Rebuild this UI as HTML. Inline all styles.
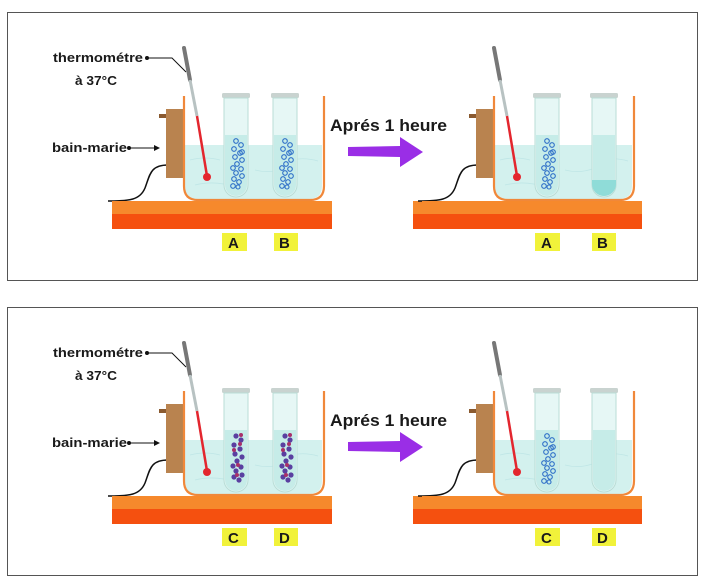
<!DOCTYPE html>
<html><head><meta charset="utf-8"><style>
html,body{margin:0;padding:0;background:#fff;width:712px;height:586px;overflow:hidden}
text{font-family:"Liberation Sans","DejaVu Sans",sans-serif;font-weight:bold;fill:#1a1a1a}
</style></head><body>
<svg width="712" height="586" viewBox="0 0 712 586" xmlns="http://www.w3.org/2000/svg">
<defs>
  <g id="app">
    <path d="M168,165 C150,165 150,175 145,188 C140,200 130,201 108,201" fill="none" stroke="#111" stroke-width="1.5"/>
    <rect x="159" y="114" width="8" height="4" fill="#8a5a30"/>
    <rect x="166" y="109" width="18" height="69" fill="#b9834f"/>
    <path d="M185,145 L322,145 L322,186 Q322,199 309,199 L198,199 Q185,199 185,186 Z" fill="#d3f1ee"/>
    <path d="M190,160 q15,-4 30,0 M255,170 q15,4 30,-2 M195,185 q20,-5 40,2 M290,160 q15,-3 28,1" stroke="#bfe6e6" fill="none" stroke-width="0.8"/>
    <path d="M184,96 L184,186 Q184,200 198,200 L310,200 Q324,200 324,186 L324,96" fill="none" stroke="#f0883a" stroke-width="2.2"/>
    <rect x="112" y="201" width="220" height="13" fill="#f6892c"/>
    <rect x="112" y="214" width="220" height="15" fill="#f5500f"/>
    <line x1="184" y1="48" x2="190" y2="80" stroke="#777" stroke-width="4" stroke-linecap="round"/>
    <line x1="190" y1="80" x2="197" y2="116" stroke="#b8c2c2" stroke-width="3"/>
    <line x1="197" y1="116" x2="207" y2="176" stroke="#e3262e" stroke-width="2.5"/>
    <circle cx="207" cy="177" r="4" fill="#e3262e"/>
  </g>
  <g id="tube">
    <rect x="-14" y="0" width="28" height="5" rx="1.5" fill="#c9d3d0"/>
    <path d="M-12,5 L-12,92 A12,12 0 0 0 12,92 L12,5 Z" fill="#e6f7f5" stroke="#b9ddd6" stroke-width="1"/>
    <path d="M-11,42 L11,42 L11,92 A11,11 0 0 1 -11,92 Z" fill="#c6ece8"/>
  </g>
  <g id="sq">
    <g fill="none" stroke="#2f6fc8" stroke-width="1.1">
      <circle cx="-2" cy="48" r="2.3"/><circle cx="3" cy="52" r="2.3"/><circle cx="-4" cy="56" r="2.3"/><circle cx="2" cy="60" r="2.3"/>
      <circle cx="-3" cy="64" r="2.3"/><circle cx="4" cy="67" r="2.3"/><circle cx="-1" cy="71" r="2.3"/><circle cx="-5" cy="75" r="2.3"/>
      <circle cx="3" cy="76" r="2.3"/><circle cx="-2" cy="80" r="2.3"/><circle cx="4" cy="83" r="2.3"/><circle cx="-4" cy="86" r="2.3"/>
      <circle cx="1" cy="89" r="2.3"/><circle cx="-5" cy="93" r="2.3"/><circle cx="4" cy="59" r="2.3"/><circle cx="0" cy="94" r="2"/>
    </g>
  </g>
  <g id="dots">
    <g fill="#5a3fa0">
      <circle cx="-2" cy="48" r="2.6"/><circle cx="3" cy="52" r="2.6"/><circle cx="-4" cy="57" r="2.6"/><circle cx="2" cy="61" r="2.6"/>
      <circle cx="-3" cy="66" r="2.6"/><circle cx="4" cy="69" r="2.6"/><circle cx="-1" cy="73" r="2.6"/><circle cx="-5" cy="78" r="2.6"/>
      <circle cx="3" cy="79" r="2.6"/><circle cx="-2" cy="83" r="2.6"/><circle cx="4" cy="87" r="2.6"/><circle cx="-4" cy="89" r="2.6"/>
      <circle cx="1" cy="92" r="2.6"/>
    </g>
    <g fill="#a8306a">
      <circle cx="2" cy="56" r="2"/><circle cx="-4" cy="62" r="2"/><circle cx="0" cy="77" r="2"/><circle cx="-1" cy="87" r="2"/><circle cx="3" cy="47" r="2"/>
    </g>
  </g>
  <g id="labels">
    <text x="53" y="62" font-size="13" textLength="90" lengthAdjust="spacingAndGlyphs">thermométre</text>
    <circle cx="147" cy="58" r="2" fill="#111"/>
    <polyline points="147,58 172,58 186,72" fill="none" stroke="#111" stroke-width="1"/>
    <text x="75" y="85" font-size="13" textLength="42" lengthAdjust="spacingAndGlyphs">à 37°C</text>
    <text x="52" y="152" font-size="13" textLength="75" lengthAdjust="spacingAndGlyphs">bain-marie</text>
    <circle cx="129" cy="148" r="2" fill="#111"/>
    <line x1="129" y1="148" x2="157" y2="148" stroke="#111" stroke-width="1"/>
    <path d="M160,148 L154,145 L154,151 Z" fill="#111"/>
    <text x="330" y="131" font-size="16.5" textLength="117" lengthAdjust="spacingAndGlyphs">Aprés 1 heure</text>
    <path d="M348,147 L400,146 L400,137 L423,152 L400,167 L400,157 L348,156 Z" fill="#9a2ee6"/>
  </g>
</defs>

<rect x="7.5" y="12.5" width="690" height="268" fill="#fff" stroke="#555" stroke-width="1"/>
<use href="#labels"/>
<use href="#app"/>
<use href="#tube" x="236" y="93"/><use href="#sq" x="238" y="93"/>
<use href="#tube" x="285" y="93"/><use href="#sq" x="287" y="93"/>
<rect x="222" y="233" width="25" height="18" fill="#f1f23a"/><text x="228" y="248" font-size="15">A</text>
<rect x="274" y="233" width="24" height="18" fill="#f1f23a"/><text x="279" y="248" font-size="15">B</text>

<rect x="413" y="201" width="20" height="28" fill="#f6892c"/><rect x="413" y="214" width="20" height="15" fill="#f5500f"/>
<use href="#app" x="310"/>
<use href="#tube" x="547" y="93"/><use href="#sq" x="549" y="93"/>
<use href="#tube" x="604" y="93"/>
<path d="M592,180 L616,180 L616,184 A12,12 0 0 1 592,184 Z" fill="#8fdcd8"/>
<rect x="535" y="233" width="25" height="18" fill="#f1f23a"/><text x="541" y="248" font-size="15">A</text>
<rect x="592" y="233" width="24" height="18" fill="#f1f23a"/><text x="597" y="248" font-size="15">B</text>

<g transform="translate(0,295)">
<rect x="7.5" y="12.5" width="690" height="268" fill="#fff" stroke="#555" stroke-width="1"/>
<use href="#labels"/>
<use href="#app"/>
<use href="#tube" x="236" y="93"/><use href="#dots" x="238" y="93"/>
<use href="#tube" x="285" y="93"/><use href="#dots" x="287" y="93"/>
<rect x="222" y="233" width="25" height="18" fill="#f1f23a"/><text x="228" y="248" font-size="15">C</text>
<rect x="274" y="233" width="24" height="18" fill="#f1f23a"/><text x="279" y="248" font-size="15">D</text>

<rect x="413" y="201" width="20" height="28" fill="#f6892c"/><rect x="413" y="214" width="20" height="15" fill="#f5500f"/>
<use href="#app" x="310"/>
<use href="#tube" x="547" y="93"/><use href="#sq" x="549" y="93"/>
<use href="#tube" x="604" y="93"/>
<rect x="535" y="233" width="25" height="18" fill="#f1f23a"/><text x="541" y="248" font-size="15">C</text>
<rect x="592" y="233" width="24" height="18" fill="#f1f23a"/><text x="597" y="248" font-size="15">D</text>
</g>
</svg>
</body></html>
